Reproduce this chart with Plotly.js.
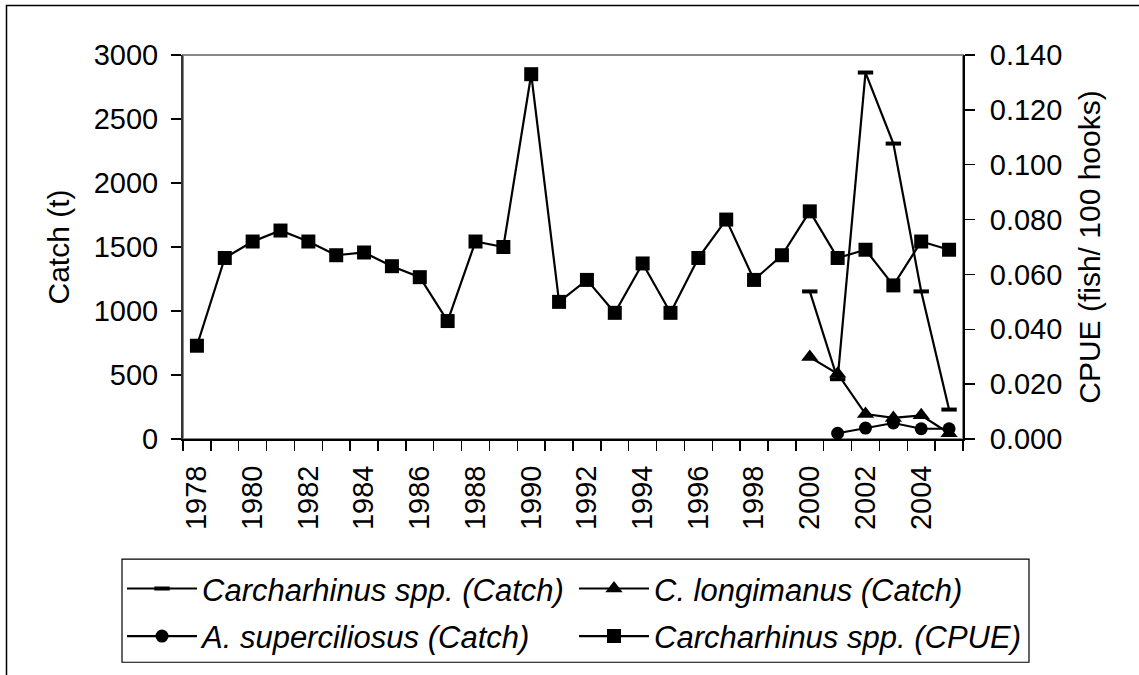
<!DOCTYPE html>
<html>
<head>
<meta charset="utf-8">
<script src="https://cdn.plot.ly/plotly-3.0.1.min.js"></script>
<style>
html,body{margin:0;padding:0;background:#fff;}
#chart{width:1139px;height:675px;}
</style>
</head>
<body>
<div id="chart"></div>
<script>
// ---- data ----
const years = [1978,1979,1980,1981,1982,1983,1984,1985,1986,1987,1988,1989,1990,1991,
               1992,1993,1994,1995,1996,1997,1998,1999,2000,2001,2002,2003,2004,2005];
const cpueCarcharhinus = [0.034,0.066,0.072,0.076,0.072,0.067,0.068,0.063,0.059,0.043,0.072,0.070,0.133,0.050,
                          0.058,0.046,0.064,0.046,0.066,0.080,0.058,0.067,0.083,0.066,0.069,0.056,0.072,0.069];
const catchYears = [2000,2001,2002,2003,2004,2005];
const catchCarcharhinus = [1153,467,2863,2308,1153,230];
const catchLongimanus = [640,510,195,165,185,45];
const superYears = [2001,2002,2003,2004,2005];
const catchSuperciliosus = [45,85,125,80,80];
const seriesNames = ['Carcharhinus spp. (Catch)','C. longimanus (Catch)','A. superciliosus (Catch)','Carcharhinus spp. (CPUE)'];

const FONT = 'Liberation Sans, Arial, sans-serif';
const FS = 29;

const traces = [
  {x: catchYears, y: catchCarcharhinus, name: seriesNames[0], type:'scatter', mode:'lines+markers', legend:'legend',
   line:{color:'#000', width:2.2}, marker:{symbol:'line-ew', size:11, color:'#000', line:{color:'#000', width:4}}, yaxis:'y'},
  {x: catchYears, y: catchLongimanus, name: seriesNames[1], type:'scatter', mode:'lines+markers', legend:'legend2',
   line:{color:'#000', width:2.2}, marker:{symbol:'triangle-up', size:15, color:'#000'}, yaxis:'y'},
  {x: superYears, y: catchSuperciliosus, name: seriesNames[2], type:'scatter', mode:'lines+markers', legend:'legend3',
   line:{color:'#000', width:2.2}, marker:{symbol:'circle', size:13, color:'#000'}, yaxis:'y'},
  {x: years, y: cpueCarcharhinus, name: seriesNames[3], type:'scatter', mode:'lines+markers', legend:'legend4',
   line:{color:'#000', width:2.2}, marker:{symbol:'square', size:14, color:'#000'}, yaxis:'y2'}
];

const L = 183, R = 963, T = 55, B = 442, W = 1139, H = 675;
const px = v => (v - L) / (R - L);
const py = v => (B - v) / (B - T);

const legendBase = {
  orientation:'v', xanchor:'left', yanchor:'middle',
  borderwidth:0, bgcolor:'rgba(0,0,0,0)',
  font:{family:FONT, size:31, style:'italic', color:'#000'},
  itemwidth: 70
};

const layout = {
  width: W, height: H,
  margin: {l: L, r: W - R, t: T, b: H - B, pad: 0},
  paper_bgcolor: '#fff', plot_bgcolor: '#fff',
  font: {family: FONT, size: FS, color: '#000'},
  showlegend: true,
  xaxis: {
    type:'linear', range:[1977.5, 2005.5], tick0:1978, dtick:2, tickmode:'linear',
    tickangle:-90, ticks:'', showgrid:false, zeroline:false,
    showline:true, linecolor:'#000', linewidth:2,
    ticklabelstandoff: 13,
    minor:{tick0:1977.5, dtick:1, ticks:'outside', ticklen:10, tickcolor:'#000', tickwidth:1.5, showgrid:false},
    tickfont:{family:FONT, size:FS}
  },
  yaxis: {
    range:[0,3000], dtick:500, tick0:0, tickmode:'linear', showgrid:false, zeroline:false,
    showline:true, linecolor:'#333', linewidth:2,
    ticks:'outside', ticklen:10, tickcolor:'#000', tickwidth:1.5,
    ticklabelstandoff: 7,
    title:{text:'Catch (t)', font:{family:FONT, size:30}, standoff:15},
    tickfont:{family:FONT, size:FS}
  },
  yaxis2: {
    overlaying:'y', side:'right', range:[0,0.14], dtick:0.02, tick0:0, tickmode:'linear',
    tickformat:'.3f', showgrid:false, zeroline:false,
    showline:true, linecolor:'#000', linewidth:2,
    ticks:'outside', ticklen:10, tickcolor:'#000', tickwidth:1.5,
    ticklabelstandoff: 9,
    title:{text:'CPUE (fish/ 100 hooks)', font:{family:FONT, size:30}, standoff:18},
    tickfont:{family:FONT, size:FS}
  },
  yaxis3: {
    overlaying:'y', side:'right', range:[0,0.14], dtick:0.02, tick0:0, tickmode:'linear',
    showgrid:false, zeroline:false, showline:false, showticklabels:false,
    ticks:'inside', ticklen:10, tickcolor:'#000', tickwidth:1.5
  },
  legend:  Object.assign({}, legendBase, {x: px(122), y: py(593)}),
  legend2: Object.assign({}, legendBase, {x: px(574), y: py(593)}),
  legend3: Object.assign({}, legendBase, {x: px(122), y: py(641)}),
  legend4: Object.assign({}, legendBase, {x: px(574), y: py(641)}),
  shapes: [
    {type:'rect', xref:'paper', yref:'paper', x0:0, x1:1, y0:0, y1:1, line:{color:'#888', width:2}, layer:'below'},
    {type:'rect', xref:'paper', yref:'paper', x0:px(6.5), x1:px(1150), y0:py(5), y1:py(690), line:{color:'#000', width:1.5}, layer:'below'},
    {type:'rect', xref:'paper', yref:'paper', x0:px(122), x1:px(1029), y0:py(563), y1:py(667), line:{color:'#000', width:1.2}, layer:'below'}
  ]
};

Plotly.newPlot('chart', traces, layout, {displayModeBar:false, staticPlot:true});
</script>
</body>
</html>
